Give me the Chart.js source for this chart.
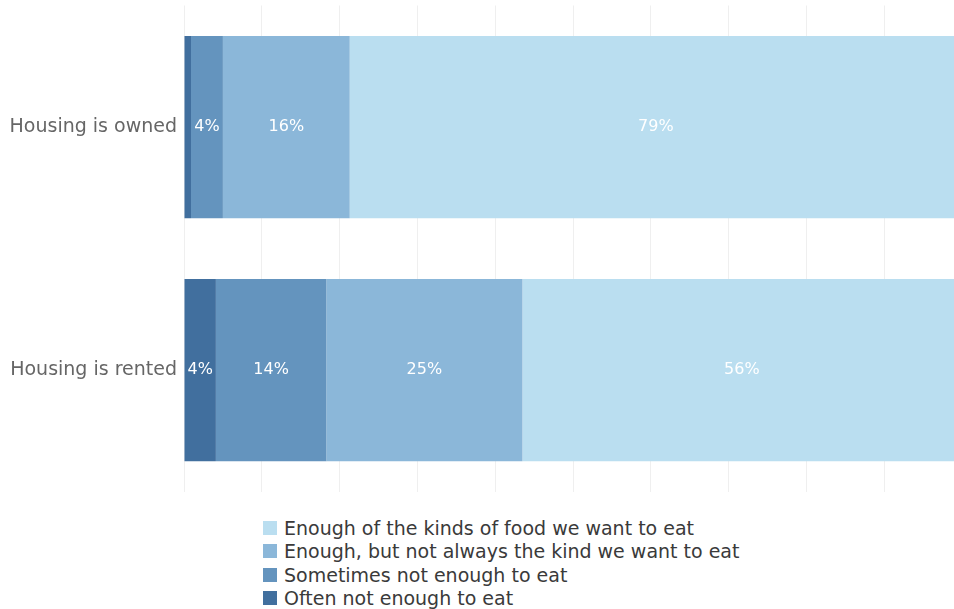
<!DOCTYPE html>
<html>
<head>
<meta charset="utf-8">
<script src="https://cdn.jsdelivr.net/npm/chart.js@4"></script>
<style>
  html, body { margin: 0; padding: 0; background: #fff; overflow: hidden; }
  body { width: 954px; height: 609px; position: relative; font-family: 'DejaVu Sans', sans-serif; }
  #wrap { position: absolute; left: 0; top: 0; width: 962px; height: 497px; }
  #legend { position: absolute; left: 263px; top: 516px; }
  .item { height: 23.5px; display: flex; align-items: center; font-size: 19px; color: #3a3a3a; }
  .box { width: 14px; height: 14px; margin-right: 7px; }
</style>
</head>
<body>
<div id="wrap"><canvas id="foodChart"></canvas></div>
<div id="legend"></div>
<script>
const categories = ['Housing is owned', 'Housing is rented'];
const seriesNames = [
  'Often not enough to eat',
  'Sometimes not enough to eat',
  'Enough, but not always the kind we want to eat',
  'Enough of the kinds of food we want to eat'
];
const often = [0.9, 4.1];
const sometimes = [4.1, 14.2];
const notAlways = [16.3, 25.2];
const enough = [78.7, 56.4];
const colors = ['#416f9e', '#6494be', '#8bb7d9', '#badef0'];

const seriesValues = [often, sometimes, notAlways, enough];

// draws the white % labels in the middle of each segment
const segmentLabels = {
  id: 'segmentLabels',
  afterDatasetsDraw(chart) {
    const ctx = chart.ctx;
    ctx.save();
    ctx.fillStyle = '#fff';
    ctx.font = '16px "DejaVu Sans", sans-serif';
    ctx.textAlign = 'center';
    ctx.textBaseline = 'middle';
    chart.data.datasets.forEach((ds, i) => {
      const meta = chart.getDatasetMeta(i);
      meta.data.forEach((bar, j) => {
        const v = ds.data[j];
        if (v < 2) return;
        const x = (bar.x + bar.base) / 2;
        ctx.fillText(Math.round(v) + '%', x, bar.y);
      });
    });
    ctx.restore();
  }
};

const ctx = document.getElementById('foodChart').getContext('2d');
const foodChart = new Chart(ctx, {
  type: 'bar',
  data: {
    labels: categories,
    datasets: seriesValues.map((vals, i) => ({
      label: seriesNames[i],
      data: vals,
      backgroundColor: colors[i],
      borderWidth: 0,
      barPercentage: 1,
      categoryPercentage: 0.75
    }))
  },
  options: {
    indexAxis: 'y',
    responsive: true,
    maintainAspectRatio: false,
    animation: false,
    layout: { padding: { top: 5.5, bottom: 5.5, left: 0, right: 0 } },
    plugins: {
      legend: { display: false },
      tooltip: { enabled: false }
    },
    scales: {
      x: {
        stacked: true,
        min: 0,
        max: 100,
        ticks: { display: false, stepSize: 10 },
        grid: { color: '#efefef', drawTicks: false },
        border: { display: false }
      },
      y: {
        stacked: true,
        afterFit(scale) {
          scale.width = 184;
          scale.paddingTop = 0;
          scale.paddingBottom = 0;
        },
        ticks: {
          color: '#666',
          padding: 7,
          font: { family: 'DejaVu Sans', size: 19 }
        },
        grid: { display: false, drawTicks: false },
        border: { display: false }
      }
    }
  },
  plugins: [segmentLabels]
});

const legend = document.getElementById('legend');
for (let i = seriesNames.length - 1; i >= 0; i--) {
  const row = document.createElement('div');
  row.className = 'item';
  const box = document.createElement('span');
  box.className = 'box';
  box.style.background = colors[i];
  row.appendChild(box);
  row.appendChild(document.createTextNode(seriesNames[i]));
  legend.appendChild(row);
}
</script>
</body>
</html>
